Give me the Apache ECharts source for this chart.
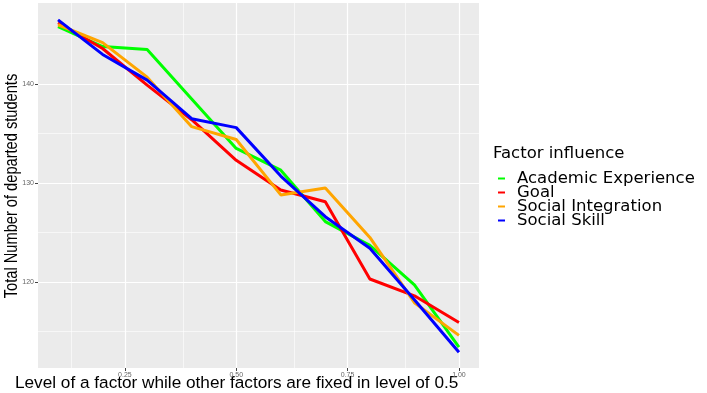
<!DOCTYPE html>
<html>
<head>
<meta charset="utf-8">
<script src="https://cdn.jsdelivr.net/npm/echarts@6/dist/echarts.min.js"></script>
<style>
  html, body { margin: 0; padding: 0; background: #fff; }
  #chart { width: 707px; height: 393px; }
</style>
</head>
<body>
<div id="chart"></div>
<script>
// level of the factor (x) and total departed students per factor (y)
const levels = [0.1, 0.2, 0.3, 0.4, 0.5, 0.6, 0.7, 0.8, 0.9, 1.0];
const academicExperience = [145.8, 143.8, 143.5, 138.5, 133.5, 131.3, 126.1, 123.7, 119.7, 113.4];
const goal = [146.2, 143.6, 139.9, 136.4, 132.3, 129.3, 128.1, 120.3, 118.6, 115.9];
const socialIntegration = [146.0, 144.2, 140.7, 135.7, 134.4, 128.8, 129.5, 124.5, 117.9, 114.6];
const socialSkill = [146.5, 143.0, 140.4, 136.5, 135.6, 130.7, 126.6, 123.4, 118.2, 112.9];

const seriesNames = ['Academic Experience', 'Goal', 'Social Integration', 'Social Skill'];
const seriesValues = [academicExperience, goal, socialIntegration, socialSkill];
const seriesColors = ['#00FF00', '#FF0000', '#FFA500', '#0000FF'];

const xTicks = [0.25, 0.5, 0.75, 1.0];
const xMinor = [0.125, 0.375, 0.625, 0.875];
const yTicks = [120, 130, 140];
const yMinor = [115, 125, 135, 145];

const chart = echarts.init(document.getElementById('chart'));

// white panel grid (major + minor), drawn under the lines
const gridLines = [].concat(
  xMinor.map(v => ({ xAxis: v, lineStyle: { width: 0.6 } })),
  xTicks.map(v => ({ xAxis: v, lineStyle: { width: 1.2 } })),
  yMinor.map(v => ({ yAxis: v, lineStyle: { width: 0.6 } })),
  yTicks.map(v => ({ yAxis: v, lineStyle: { width: 1.2 } }))
);

const option = {
  animation: false,
  textStyle: { fontFamily: 'Liberation Sans' },
  grid: {
    left: 38, right: 228, top: 3, bottom: 25,
    show: true, backgroundColor: '#EBEBEB', borderWidth: 0
  },
  xAxis: {
    type: 'value',
    min: 0.055,
    max: 1.045,
    axisLine: { show: false },
    splitLine: { show: false },
    axisTick: { customValues: xTicks, length: 3, lineStyle: { color: '#444' } },
    axisLabel: {
      customValues: xTicks,
      formatter: v => v.toFixed(2),
      fontSize: 7, color: '#666', margin: 4
    }
  },
  yAxis: {
    type: 'value',
    min: 111.3,
    max: 148.2,
    axisLine: { show: false },
    splitLine: { show: false },
    axisTick: { customValues: yTicks, length: 3, lineStyle: { color: '#444' } },
    axisLabel: {
      customValues: yTicks,
      fontSize: 7, color: '#666', margin: 4
    }
  },
  legend: {
    data: seriesNames,
    orient: 'vertical',
    left: 493,
    top: 165,
    itemWidth: 7,
    itemHeight: 2,
    itemGap: -3,
    icon: 'rect',
    textStyle: {
      fontFamily: 'DejaVu Sans',
      fontSize: 16.5,
      color: '#000',
      padding: [0, 0, 0, 7]
    }
  },
  graphic: [
    {
      type: 'text', left: 493, top: 145,
      style: { text: 'Factor influence', fontFamily: 'DejaVu Sans', fontSize: 16.5, fill: '#000' }
    },
    {
      type: 'text', x: 15, y: 383,
      style: {
        text: 'Level of a factor while other factors are fixed in level of 0.5',
        fontFamily: 'Liberation Sans', fontSize: 17.2, fill: '#000',
        verticalAlign: 'middle'
      }
    },
    {
      type: 'text', x: 12, y: 186, rotation: Math.PI / 2, scaleX: 0.77,
      style: {
        text: 'Total Number of departed students',
        fontFamily: 'Liberation Sans', fontSize: 19, fill: '#000',
        align: 'center', verticalAlign: 'middle'
      }
    }
  ],
  series: [
    {
      type: 'line',
      data: [],
      silent: true,
      markLine: {
        silent: true,
        symbol: 'none',
        label: { show: false },
        lineStyle: { color: '#FFFFFF', type: 'solid' },
        data: gridLines
      }
    }
  ].concat(seriesNames.map((name, i) => ({
    name: name,
    type: 'line',
    zlevel: 1,
    symbol: 'none',
    color: seriesColors[i],
    lineStyle: { width: 3, color: seriesColors[i] },
    data: levels.map((x, j) => [x, seriesValues[i][j]])
  })))
};

chart.setOption(option);
</script>
</body>
</html>
